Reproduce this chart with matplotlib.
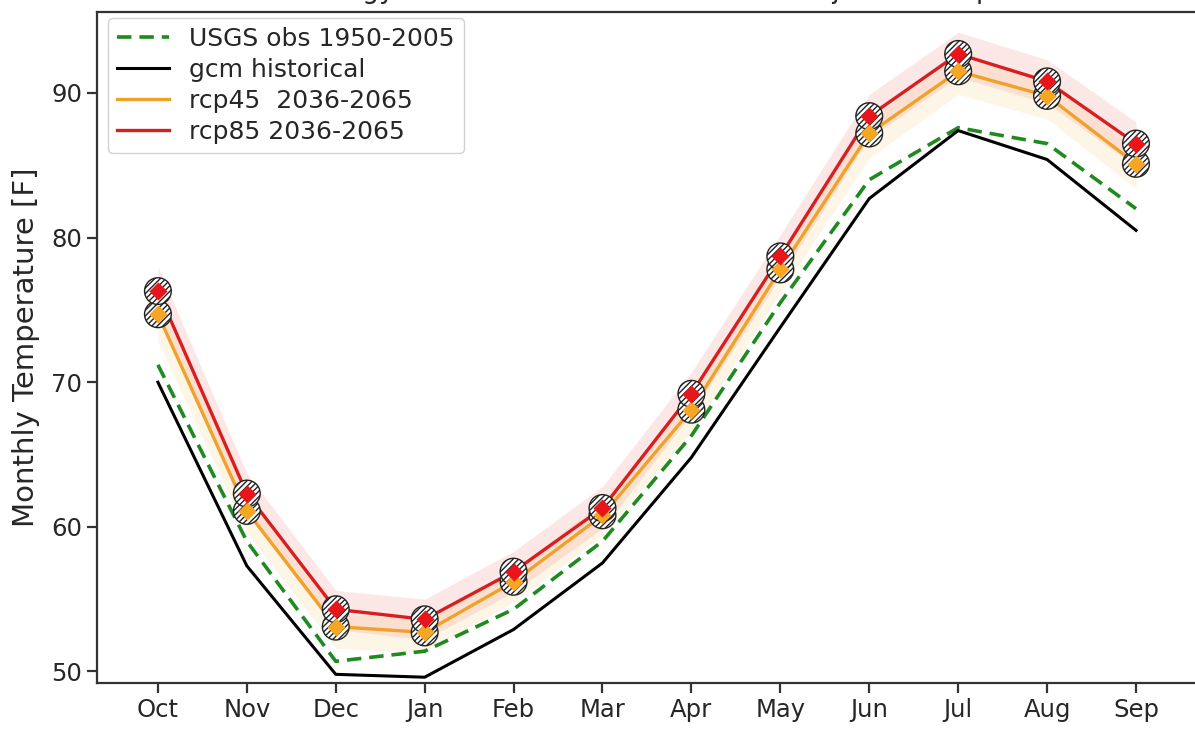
import matplotlib
matplotlib.use("Agg")
import matplotlib.pyplot as plt
import numpy as np

months = ["Oct", "Nov", "Dec", "Jan", "Feb", "Mar", "Apr", "May", "Jun", "Jul", "Aug", "Sep"]
usgs_obs = [71.2, 59.0, 50.7, 51.4, 54.3, 59.0, 66.3, 75.5, 84.0, 87.6, 86.5, 82.0]
gcm_hist = [70.0, 57.3, 49.8, 49.6, 52.9, 57.5, 64.8, 73.8, 82.7, 87.4, 85.4, 80.5]
rcp45 = [74.7, 61.1, 53.1, 52.7, 56.2, 60.8, 68.1, 77.8, 87.2, 91.5, 89.8, 85.1]
rcp85 = [76.3, 62.3, 54.3, 53.6, 56.9, 61.3, 69.2, 78.7, 88.4, 92.7, 90.8, 86.5]
rcp45_lo = [72.8, 59.6, 51.6, 51.3, 54.8, 59.4, 66.6, 76.2, 85.5, 89.9, 88.2, 83.4]
rcp45_hi = [75.8, 62.1, 54.0, 53.6, 57.1, 61.7, 69.1, 78.8, 88.2, 92.5, 90.8, 86.1]
rcp85_lo = [74.6, 60.9, 52.9, 52.2, 55.5, 59.9, 67.8, 77.3, 86.9, 91.1, 89.3, 84.9]
rcp85_hi = [78.0, 63.7, 55.6, 55.0, 58.3, 62.8, 70.7, 80.2, 89.9, 94.2, 92.3, 88.0]
title_text = "Climatology of the Station: Historical and Projected Temperature"

W, H = 1195, 752
AX_L, AX_R, AX_T, AX_B = 97, 1230, 12, 683
fig = plt.figure(figsize=(W / 100, H / 100), dpi=100)
ax = fig.add_axes([AX_L / W, 1 - AX_B / H, (AX_R - AX_L) / W, (AX_B - AX_T) / H])

x = np.arange(len(months))
ax.fill_between(x, rcp85_lo, rcp85_hi, color="#e8282b", alpha=0.11, lw=0, zorder=1)
ax.fill_between(x, rcp45_lo, rcp45_hi, color="#f5a623", alpha=0.11, lw=0, zorder=1)

ax.plot(x, usgs_obs, color="#1f8a1f", ls="--", lw=2.6, dashes=(4, 2.2), label="USGS obs 1950-2005", zorder=3)
ax.plot(x, gcm_hist, color="black", lw=2.2, label="gcm historical", zorder=3)
ax.plot(x, rcp45, color="#f0a12a", lw=2.4, label="rcp45  2036-2065", zorder=4)
ax.plot(x, rcp85, color="#d81e1e", lw=2.4, label="rcp85 2036-2065", zorder=5)

plt.rcParams["hatch.linewidth"] = 1.0
for series, col, z in [(rcp45, "#f5a623", 6), (rcp85, "#e8151b", 7)]:
    ax.scatter(x, series, s=370, marker="o", facecolor="white", edgecolor="#222222",
               hatch="//////", linewidth=1.0, zorder=z)
    ax.scatter(x, series, s=85, marker="D", color=col, linewidth=0, zorder=z + 2)

x_per_px = 12.405 / 1103.0
ax.set_xlim(-0.685, -0.685 + (AX_R - AX_L) * x_per_px)
ax.set_ylim(49.2, 95.6)
ax.set_xticks(x)
ax.set_xticklabels(months)
ax.set_yticks([50, 60, 70, 80, 90])
ax.tick_params(axis="both", labelsize=17.5, length=7, width=1.6, color="#333333", labelcolor="#262626")
for s in ax.spines.values():
    s.set_linewidth(1.6)
    s.set_color("#333333")
ax.set_ylabel("Monthly Temperature [F]", fontsize=21, color="#262626", labelpad=8)
ax.set_title(title_text, fontsize=19, color="#262626", pad=10)

leg = ax.legend(loc="upper left", fontsize=18, frameon=True, framealpha=0.9,
                edgecolor="#cccccc", handlelength=2.1, borderpad=0.35, labelspacing=0.28,
                borderaxespad=0.0,
                bbox_to_anchor=((108 - AX_L) / (AX_R - AX_L), 1 - 6 / (AX_B - AX_T)))
for t in leg.get_texts():
    t.set_color("#262626")

fig.savefig("out.png", dpi=100)
